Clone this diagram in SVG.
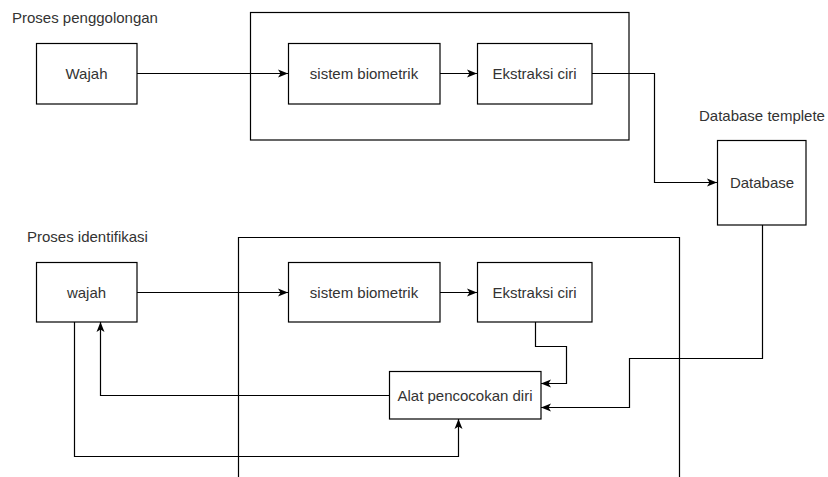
<svg xmlns="http://www.w3.org/2000/svg" width="828" height="477" viewBox="0 0 828 477">
<style>
.box{fill:#fff;stroke:#000;stroke-width:1.2}
.frame{fill:none;stroke:#000;stroke-width:1.2}
.t{font-family:"Liberation Sans",Arial,sans-serif;font-size:15px;fill:#333;text-anchor:middle;dominant-baseline:central}
.lbl{font-family:"Liberation Sans",Arial,sans-serif;font-size:15px;fill:#333}
.c{fill:none;stroke:#000;stroke-width:1.2}
</style>
<defs>
<marker id="ah" viewBox="0 0 10 10" refX="10" refY="5" markerWidth="10" markerHeight="10" markerUnits="userSpaceOnUse" orient="auto">
<path d="M0,1 L10,5 L0,9 L2.5,5 Z" fill="#000"/>
</marker>
</defs>
<rect width="828" height="477" fill="#fff"/>
<g id="frames">
<rect class="frame" x="250.5" y="12.5" width="378.5" height="127.5"/>
<path class="frame" d="M238.5,477 V237.5 H679.5 V477"/>
</g>
<g id="labels">
<text class="lbl" x="12" y="23">Proses penggolongan</text>
<text class="lbl" x="27" y="241.5">Proses identifikasi</text>
<text class="lbl" x="699" y="120.5">Database templete</text>
</g>
<g id="connectors">
<path class="c" d="M137,73.5 H288" marker-end="url(#ah)"/>
<path class="c" d="M440,73.5 H477" marker-end="url(#ah)"/>
<path class="c" d="M592,73.5 H654.5 V182.5 H717" marker-end="url(#ah)"/>
<path class="c" d="M137,292.5 H288" marker-end="url(#ah)"/>
<path class="c" d="M440,292.5 H477" marker-end="url(#ah)"/>
<path class="c" d="M535.5,322 V346.5 H566.5 V383.5 H541" marker-end="url(#ah)"/>
<path class="c" d="M762.5,225 V358.5 H629.5 V407.5 H541" marker-end="url(#ah)"/>
<path class="c" d="M389,395.5 H100.5 V322" marker-end="url(#ah)"/>
<path class="c" d="M74.5,322 V456.5 H458.5 V419" marker-end="url(#ah)"/>
</g>
<g id="wajah1">
<rect class="box" x="36.5" y="43.5" width="100.5" height="60.5"/>
<text class="t" x="86.5" y="73.5">Wajah</text>
</g>
<g id="sistem1">
<rect class="box" x="288.5" y="43.5" width="151.5" height="60.5"/>
<text class="t" x="364" y="73.5">sistem biometrik</text>
</g>
<g id="ekstraksi1">
<rect class="box" x="477.5" y="43.5" width="114.5" height="60.5"/>
<text class="t" x="534.5" y="73.5">Ekstraksi ciri</text>
</g>
<g id="database">
<rect class="box" x="717.5" y="140.5" width="88.5" height="84.5"/>
<text class="t" x="762" y="182.5">Database</text>
</g>
<g id="wajah2">
<rect class="box" x="36.5" y="262.5" width="100.5" height="59.5"/>
<text class="t" x="86.5" y="292">wajah</text>
</g>
<g id="sistem2">
<rect class="box" x="288.5" y="262.5" width="151.5" height="59.5"/>
<text class="t" x="364" y="292">sistem biometrik</text>
</g>
<g id="ekstraksi2">
<rect class="box" x="477.5" y="262.5" width="114.5" height="59.5"/>
<text class="t" x="534.5" y="292">Ekstraksi ciri</text>
</g>
<g id="alat">
<rect class="box" x="389.5" y="371.5" width="151.5" height="47.5"/>
<text class="t" x="465" y="395">Alat pencocokan diri</text>
</g>
</svg>
